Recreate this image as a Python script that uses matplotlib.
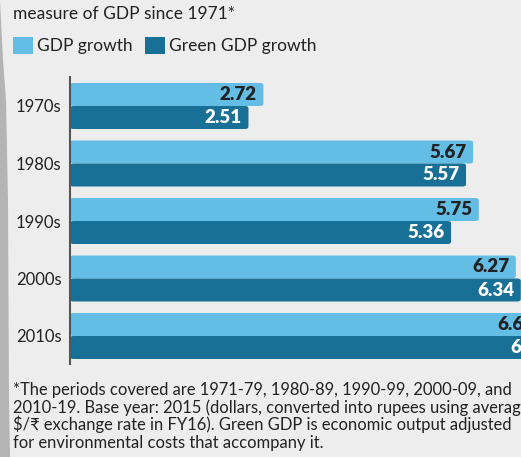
import matplotlib
matplotlib.use("Agg")
import matplotlib.pyplot as plt
from matplotlib.patches import FancyBboxPatch, Patch, Polygon

plt.rcParams['font.family'] = ['Lato', 'DejaVu Sans']

decades = ['1970s', '1980s', '1990s', '2000s', '2010s']
gdp_growth = [2.72, 5.67, 5.75, 6.27, 6.63]
green_gdp_growth = [2.51, 5.57, 5.36, 6.34, 6.81]

light = '#64bde4'
dark = '#187096'
bg = '#ededed'
ink = '#222222'

W, H = 521, 457
fig = plt.figure(figsize=(W / 100, H / 100), dpi=100, facecolor=bg)

# grey curved page edge on the left
edge_y = [0, 20, 60, 100, 200, 300, 400, 457]
edge_x = [0, 1, 3, 6, 8, 8.5, 9, 10]
pts = [(x / W, 1 - y / H) for x, y in zip(edge_x, edge_y)] + [(0, 0), (0, 1)]
fig.patches.append(Polygon(pts, closed=True, transform=fig.transFigure,
                           facecolor='#b4b4b4', edgecolor='none'))

ax = fig.add_axes([70 / W, (H - 364) / H, (W - 70) / W, 287 / H])
ax.set_facecolor('none')

px_x = 71.1    # pixels per growth point
px_y = 57.5    # pixels per decade row
ax.set_xlim(0, (W - 70) / px_x)
ax.set_ylim(4 + 28 / px_y, -29 / px_y)

bar_h = 0.40
r = 3.5 / px_x
aspect = px_x / px_y
pad = 6.5 / px_x

for i, (g, gg) in enumerate(zip(gdp_growth, green_gdp_growth)):
    for val, y0, col, tcol in [(g, i - bar_h, light, ink), (gg, i, dark, 'white')]:
        box = FancyBboxPatch((0, y0), val, bar_h,
                             boxstyle=f'round,pad=0,rounding_size={r}',
                             mutation_aspect=1 / aspect,
                             facecolor=col, edgecolor='none', clip_on=False)
        ax.add_patch(box)
        ax.text(val - pad, y0 + bar_h / 2, f'{val:.2f}', ha='right', va='center',
                color=tcol, fontsize=13.5, fontweight='heavy', clip_on=False)

ax.set_yticks(range(len(decades)))
ax.set_yticklabels(decades, fontsize=12, color=ink)
ax.tick_params(axis='y', length=0, pad=6)
ax.set_xticks([])
for s in ['top', 'right', 'bottom']:
    ax.spines[s].set_visible(False)
ax.spines['left'].set_color('#555555')
ax.spines['left'].set_linewidth(1.5)
ax.spines['left'].set_zorder(5)

fig.text(13 / W, 1 - 19 / H, 'measure of GDP since 1971*', fontsize=12.5,
         color=ink, va='baseline', ha='left')

handles = [Patch(facecolor=light, edgecolor='none', label='GDP growth'),
           Patch(facecolor=dark, edgecolor='none', label='Green GDP growth')]
fig.legend(handles=handles, loc='upper left', bbox_to_anchor=(13 / W, 1 - 37 / H),
           ncol=2, frameon=False, fontsize=12.5, handlelength=1.15, handleheight=1.15,
           handletextpad=0.25, columnspacing=0.7, borderpad=0, borderaxespad=0,
           labelcolor=ink)

notes = [
    '*The periods covered are 1971-79, 1980-89, 1990-99, 2000-09, and',
    '2010-19. Base year: 2015 (dollars, converted into rupees using average',
    '$/\u20b9 exchange rate in FY16). Green GDP is economic output adjusted',
    'for environmental costs that accompany it.',
]
for k, line in enumerate(notes):
    fig.text(13 / W, 1 - (395 + 17.6 * k) / H, line, fontsize=11.9, color=ink,
             va='baseline', ha='left')

fig.savefig('out.png', dpi=100, facecolor=bg)
